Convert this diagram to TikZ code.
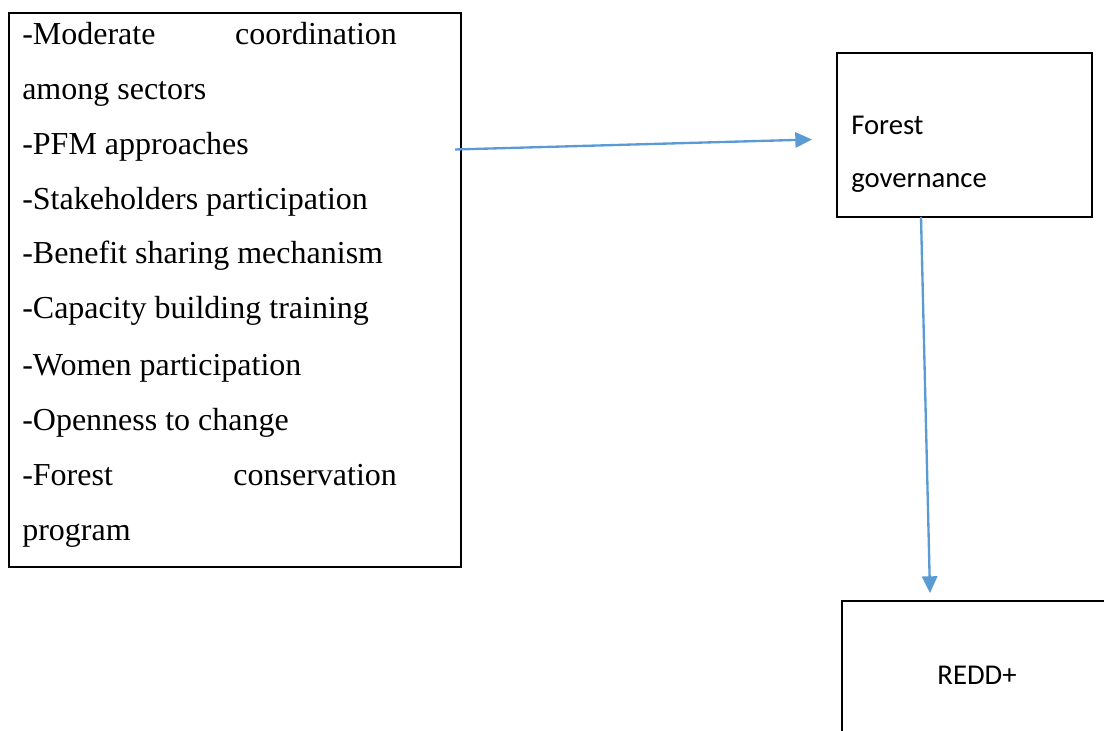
\documentclass[tikz,border=0pt]{standalone}
\usepackage{fontspec}
\setmainfont{Liberation Serif}
\newfontfamily\sanslike{Carlito}
\usetikzlibrary{arrows.meta}
\definecolor{linkblue}{HTML}{5B9BD5}
\begin{document}
\begin{tikzpicture}[x=0.75pt,y=-0.75pt,
  boxframe/.style={draw=black, line width=1.6pt, rectangle, inner sep=0pt},
  listline/.style={anchor=base west, inner sep=0pt, font=\fontsize{24}{24}\selectfont},
  sanstext/.style={inner sep=0pt, font=\sanslike\fontsize{21.5}{21.5}\selectfont},
  connector/.style={draw=linkblue, line width=1.75pt, -{Triangle[length=12.5pt,width=11.5pt]}}]
\useasboundingbox (0,0) rectangle (1104,731);

% boxes
\node[boxframe, minimum width=339pt, minimum height=415.5pt] (factors) at (235,290) {};
\node[boxframe, minimum width=191.25pt, minimum height=123pt] (governance) at (964.5,135) {};
\node[boxframe, minimum width=202.5pt, minimum height=111pt] (redd) at (977,675) {};

% list of factors
\node[listline] (f1) at (22,45) {\hbox to 281pt{-Moderate\hfill coordination}};
\node[listline] (f2) at (22,100) {among sectors};
\node[listline] (f3) at (22,155) {-PFM approaches};
\node[listline] (f4) at (22,210) {-Stakeholders participation};
\node[listline] (f5) at (22,264) {-Benefit sharing mechanism};
\node[listline] (f6) at (22,319) {-Capacity building training};
\node[listline] (f7) at (22,375) {-Women participation};
\node[listline] (f8) at (22,430) {-Openness to change};
\node[listline] (f9) at (22,485) {\hbox to 281pt{-Forest\hfill conservation}};
\node[listline] (f10) at (22,540) {program};

% labels
\node[sanstext, anchor=base west] (g1) at (851,135) {Forest};
\node[sanstext, anchor=base west] (g2) at (851,188) {governance};
\node[sanstext, anchor=base] (r1) at (977,684) {REDD+};

% connectors
\coordinate (a1s) at (455,149.5);
\coordinate (a1e) at (812,139.5);
\coordinate (a2s) at (921,217);
\coordinate (a2e) at (930,593);
\draw[connector] (a1s) -- (a1e);
\draw[connector] (a2s) -- (a2e);
\end{tikzpicture}
\end{document}
